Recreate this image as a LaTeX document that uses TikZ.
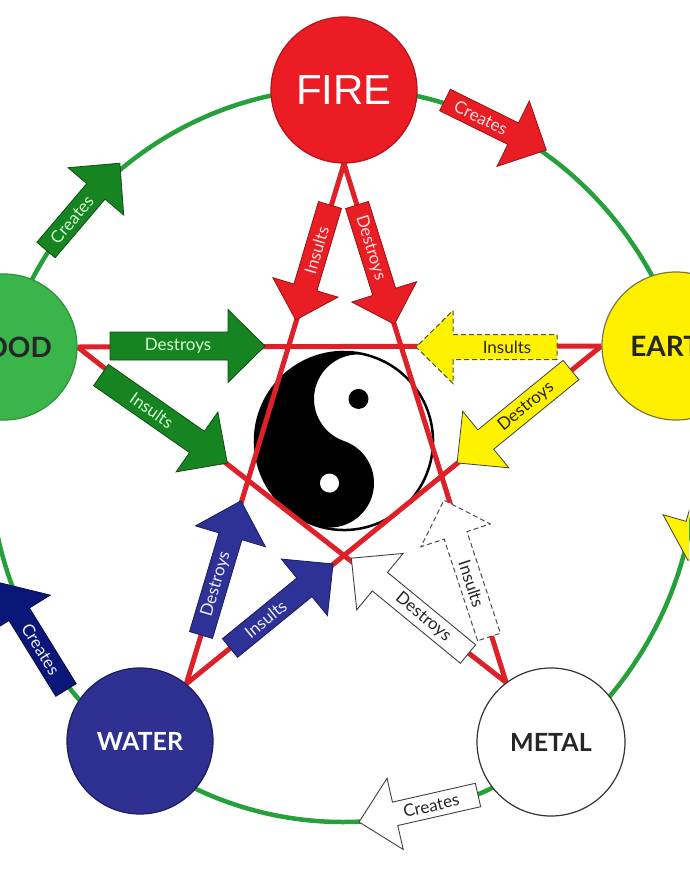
\documentclass[tikz,border=0pt]{standalone}
\usepackage{fontspec}
\setmainfont{Lato}
\newfontfamily\firefont{Liberation Sans}
\definecolor{ringgreen}{RGB}{38,160,58}
\definecolor{pentared}{RGB}{222,32,40}
\definecolor{firered}{RGB}{236,28,36}
\definecolor{woodgreen}{RGB}{57,181,74}
\definecolor{earthyellow}{RGB}{255,240,0}
\definecolor{waterblue}{RGB}{46,49,146}
\definecolor{navyblue}{RGB}{10,22,120}
\definecolor{arrgreen}{RGB}{22,132,32}
\definecolor{arrred}{RGB}{232,30,36}
\definecolor{arrblue}{RGB}{46,49,150}
\definecolor{arryellow}{RGB}{255,242,0}
\pgfdeclarelayer{bg}
\pgfdeclarelayer{fg}
\pgfsetlayers{bg,main,fg}
\def\sw{12}\def\hw{36.5}\def\hl{37}
% #1 path style, #2 tail, #3 angle, #4 length, #5 name, #6 text pos, #7 text turn, #8 text, #9 text style
\newcommand\blockarrow[9]{%
  \begin{scope}[shift={#2},rotate=#3]
    \path[#1] (0,-\sw) -- ({#4-\hl},-\sw) -- ({#4-\hl},-\hw) -- (#4,0) -- ({#4-\hl},\hw) -- ({#4-\hl},\sw) -- (0,\sw) -- cycle;
    \node[arrtext,#9,rotate={#3+#7}] (#5) at (#6,0) {#8};
  \end{scope}}
\tikzset{
  elem/.style={circle, inner sep=0pt, minimum size=146pt, line width=1.2pt},
  elemfont/.style={font=\fontsize{28}{30}\selectfont\bfseries},
  smallelemfont/.style={font=\fontsize{25}{28}\selectfont\bfseries},
  ring/.style={draw=ringgreen, line width=4.5pt},
  penta/.style={draw=pentared, line width=5pt},
  arrtext/.style={inner sep=0pt, font=\fontsize{17}{18}\selectfont},
  garr/.style={fill=arrgreen, draw=arrgreen!60!black, line width=0.8pt},
  rarr/.style={fill=arrred, draw=arrred!65!black, line width=0.8pt},
  yarr/.style={fill=arryellow, draw=black!75, line width=0.8pt},
  yarrdash/.style={fill=arryellow, draw=black!70, line width=1pt, dash pattern=on 5pt off 3pt},
  barr/.style={fill=arrblue, draw=arrblue!60!black, line width=0.8pt},
  navyarr/.style={fill=navyblue, draw=navyblue!60!black, line width=0.8pt},
  warr/.style={fill=white, draw=black!75, line width=0.9pt},
  warrdash/.style={fill=white, draw=black!70, line width=1pt, dash pattern=on 5pt off 3pt},
  gtxt/.style={text=green!18!white},
  rtxt/.style={text=red!12!white},
  btxt/.style={text=blue!8!white},
  dtxt/.style={text=black!85},
}
\begin{document}
\begin{tikzpicture}[x=1pt,y=-1pt]
\useasboundingbox (0,0) rectangle (689,870);
\clip (0,0) rectangle (689,870);

% element circles (on the top layer)
\begin{pgfonlayer}{fg}
\node[elem, fill=firered, draw=firered!75!black, text=white, font=\firefont\fontsize{42}{44}\selectfont] (fire) at (344,90) {FIRE};
\node[elem, fill=woodgreen, draw=woodgreen!80!black, text=black!85, elemfont] (wood) at (4,347) {WOOD};
\node[elem, minimum size=148pt, fill=earthyellow, draw=black!60!yellow, text=black!85, elemfont] (earth) at (676,346) {EARTH};
\node[elem, fill=waterblue, draw=waterblue!60!black, text=white, smallelemfont] (water) at (140,741) {WATER};
\node[elem, minimum size=148pt, fill=white, draw=black!80, text=black!85, smallelemfont] (metal) at (551,742) {METAL};
\end{pgfonlayer}

\begin{pgfonlayer}{bg}
  \fill[white] (0,0) rectangle (689,870);
  \draw[ring] (343,455) ellipse [x radius=354, y radius=367];
  % yin-yang
  \begin{scope}[shift={(344,441)}, y=1pt, rotate=-19]
    \fill[white] (0,0) circle [radius=89];
    \fill[black] (0,89) arc [start angle=90, end angle=270, radius=89]
      arc [start angle=-90, end angle=90, radius=44.5]
      arc [start angle=270, end angle=90, radius=44.5] -- cycle;
    \fill[black] (0,44.5) circle [radius=10];
    \fill[white] (0,-44.5) circle [radius=9.5];
    \draw[black, line width=2.5pt] (0,0) circle [radius=89];
  \end{scope}
  % pentagram
  \draw[penta] (wood.east) -- (earth.west);
  \draw[penta] (wood.east) -- (metal.127);
  \draw[penta] (fire.south) -- (water.51);
  \draw[penta] (fire.south) -- (metal.127);
  \draw[penta] (earth.west) -- (water.51);
\end{pgfonlayer}

% wood arrows
\blockarrow{garr}{(46,250)}{49.6}{114}{woodCreates}{40}{0}{Creates}{gtxt}
\def\sw{14}
\blockarrow{garr}{(110,346)}{0}{155}{woodDestroys}{68}{0}{Destroys}{gtxt}
\def\sw{13}
\blockarrow{garr}{(101,375)}{-34.9}{154}{woodInsults}{62}{0}{Insults}{gtxt}
\def\sw{12}
% fire arrows
\blockarrow{rarr}{(445,100)}{-26.3}{113}{fireCreates}{40}{0}{Creates}{rtxt}
\def\hw{34}\def\hl{34}
\blockarrow{rarr}{(357,205)}{-72.6}{125}{fireDestroys}{45}{0}{Destroys}{rtxt}
\blockarrow{rarr}{(330,205)}{-106.6}{120}{fireInsults}{47}{180}{Insults}{rtxt}
\def\hw{36.5}\def\hl{37}
% earth arrows
\def\sw{12.5}
\blockarrow{yarrdash}{(557,347)}{180}{141}{earthInsults}{50}{180}{Insults}{dtxt}
\blockarrow{yarr}{(571,370)}{-140.8}{147}{earthDestroys}{58}{180}{Destroys}{dtxt}
\blockarrow{yarr}{(721,445)}{-106}{120}{earthCreates}{50}{180}{}{dtxt}
% water arrows
\def\sw{12}
\blockarrow{navyarr}{(66,690)}{121.7}{126}{waterCreates}{48}{180}{Creates}{btxt}
\blockarrow{barr}{(201,635)}{73.4}{140}{waterDestroys}{53}{0}{Destroys}{btxt}
\blockarrow{barr}{(230,648)}{39.2}{133}{waterInsults}{46}{0}{Insults}{btxt}
% metal arrows
\blockarrow{warr}{(468,654)}{140.6}{151}{metalDestroys}{58}{180}{Destroys}{dtxt}
\blockarrow{warrdash}{(489,637)}{108.2}{144}{metalInsults}{56}{180}{Insults}{dtxt}
\blockarrow{warr}{(478,795)}{-167.2}{122}{metalCreates}{48}{180}{Creates}{dtxt}
\end{tikzpicture}
\end{document}
